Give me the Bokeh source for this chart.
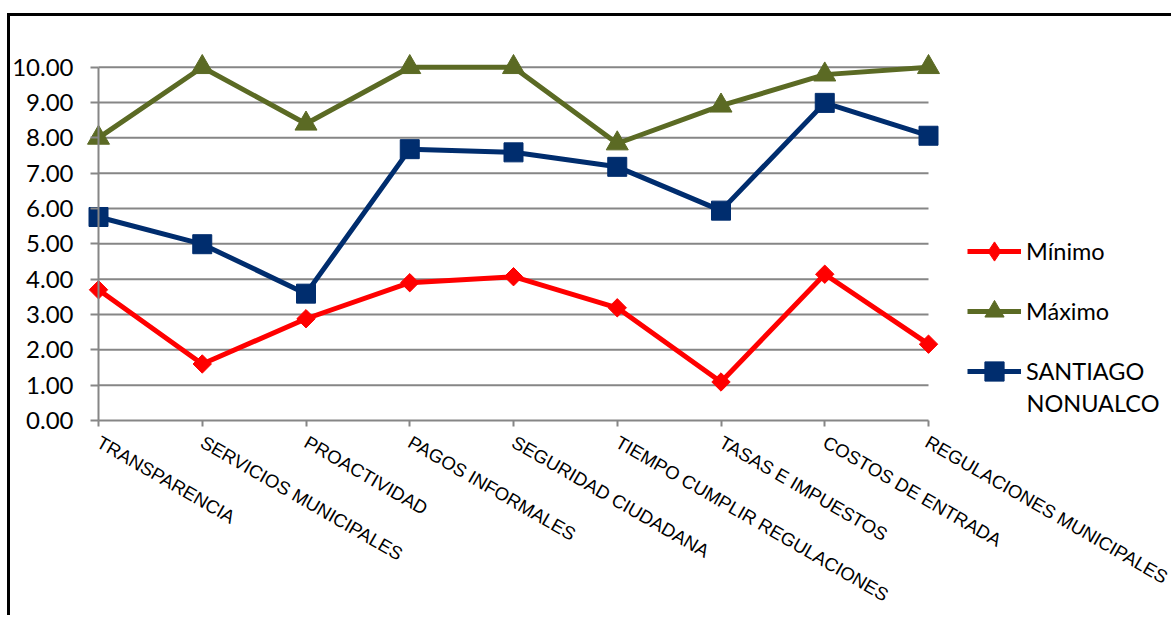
from bokeh.plotting import figure
from bokeh.models import (Range1d, LinearAxis, FixedTicker, NumeralTickFormatter,
                          Legend, LegendItem, Label)
from bokeh.embed import file_html
from bokeh.resources import INLINE
import math

categories = ["TRANSPARENCIA", "SERVICIOS MUNICIPALES", "PROACTIVIDAD",
              "PAGOS INFORMALES", "SEGURIDAD CIUDADANA",
              "TIEMPO CUMPLIR REGULACIONES", "TASAS E IMPUESTOS",
              "COSTOS DE ENTRADA", "REGULACIONES MUNICIPALES"]
minimo = [3.70, 1.60, 2.88, 3.90, 4.07, 3.19, 1.09, 4.14, 2.16]
maximo = [8.00, 10.00, 8.40, 10.00, 10.00, 7.84, 8.91, 9.79, 10.00]
santiago = [5.76, 4.99, 3.59, 7.68, 7.59, 7.18, 5.94, 8.99, 8.06]
series_names = ["Mínimo", "Máximo", "SANTIAGO", "NONUALCO"]
y_ticks = [0, 1, 2, 3, 4, 5, 6, 7, 8, 9, 10]

xs = list(range(len(categories)))

W, H = 1164, 602
PX_X = 103.75   # pixels per category step
PX_Y = 35.33    # pixels per unit value
X0, Y0 = 88, 404  # canvas position of (first category, 0.00)

p = figure(width=W, height=H, output_backend="svg", toolbar_location=None,
           x_range=Range1d(-X0 / PX_X, (W - X0) / PX_X),
           y_range=Range1d((Y0 - H) / PX_Y, Y0 / PX_Y),
           x_axis_type=None, y_axis_type=None,
           min_border=0, min_border_left=0, min_border_right=0,
           min_border_top=0, min_border_bottom=0,
           outline_line_color=None, background_fill_color="white",
           border_fill_color="white")
p.margin = (13, 0, 0, 7)
p.styles = {"border-top": "3px solid black", "border-left": "3px solid black"}
p.xgrid.visible = False
p.ygrid.visible = False

GRID = "#868686"

# horizontal gridlines across the category span
gy = y_ticks[1:]
p.segment(x0=[xs[0]] * len(gy), x1=[xs[-1]] * len(gy), y0=gy, y1=gy,
          line_color=GRID, line_width=2)

# value axis placed at the first category
yax = LinearAxis(fixed_location=xs[0], bounds=(y_ticks[0], y_ticks[-1]),
                 ticker=FixedTicker(ticks=y_ticks),
                 formatter=NumeralTickFormatter(format="0.00"))
yax.axis_line_color = GRID
yax.axis_line_width = 2
yax.major_tick_line_color = GRID
yax.major_tick_line_width = 2
yax.major_tick_out = 8
yax.major_tick_in = 0
yax.minor_tick_line_color = None
yax.major_label_standoff = 17
yax.major_label_text_font = "Lato"
yax.major_label_text_font_size = "24px"
yax.major_label_text_color = "black"
p.add_layout(yax, "left")

# category axis along zero
xax = LinearAxis(fixed_location=0, bounds=(xs[0], xs[-1]),
                 ticker=FixedTicker(ticks=xs),
                 major_label_overrides={i: c for i, c in zip(xs, categories)})
xax.axis_line_color = GRID
xax.axis_line_width = 2
xax.major_tick_line_color = GRID
xax.major_tick_line_width = 2
xax.major_tick_out = 6
xax.major_tick_in = 0
xax.minor_tick_line_color = None
xax.major_label_orientation = -math.pi / 6
xax.major_label_standoff = 14
xax.major_label_text_font = "Liberation Sans"
xax.major_label_text_font_size = "18.5px"
xax.major_label_text_color = "black"
p.add_layout(xax, "below")

RED, OLIVE, NAVY = "#ff0000", "#5b6a24", "#002d6e"
LW = 5

l1 = p.line(xs, minimo, line_color=RED, line_width=LW)
# narrow diamond sits under the rotated squares; it supplies the legend symbol
k1 = p.scatter(xs, minimo, marker="diamond", size=13,
               fill_color=RED, line_color=RED)
m1 = p.scatter(xs, minimo, marker="square", angle=math.pi / 4, size=13,
               fill_color=RED, line_color=RED)
l2 = p.line(xs, maximo, line_color=OLIVE, line_width=LW)
m2 = p.scatter(xs, maximo, marker="triangle", size=22,
               fill_color=OLIVE, line_color=OLIVE)
l3 = p.line(xs, santiago, line_color=NAVY, line_width=LW)
m3 = p.scatter(xs, santiago, marker="square", size=19,
               fill_color=NAVY, line_color=NAVY)

LEG_FONT, LEG_SIZE = "Lato", "23.5px"

legend = Legend(items=[
    LegendItem(label=series_names[0], renderers=[l1, k1]),
    LegendItem(label=series_names[1], renderers=[l2, m2]),
    LegendItem(label=series_names[2], renderers=[l3, m3]),
], location=(957, 223))
legend.glyph_width = 54
legend.glyph_height = 48
legend.spacing = 12
legend.padding = 0
legend.margin = 0
legend.label_standoff = 5
legend.label_text_font = LEG_FONT
legend.label_text_font_size = LEG_SIZE
legend.label_text_color = "black"
legend.border_line_color = None
legend.background_fill_alpha = 0
p.add_layout(legend)

# second line of the third legend entry
p.add_layout(Label(x=1016, y=H - 386, x_units="screen", y_units="screen",
                   text=series_names[3], text_font=LEG_FONT,
                   text_font_size=LEG_SIZE, text_color="black",
                   text_baseline="middle", text_align="left"))

open("out.html", "w").write(file_html(p, INLINE))
